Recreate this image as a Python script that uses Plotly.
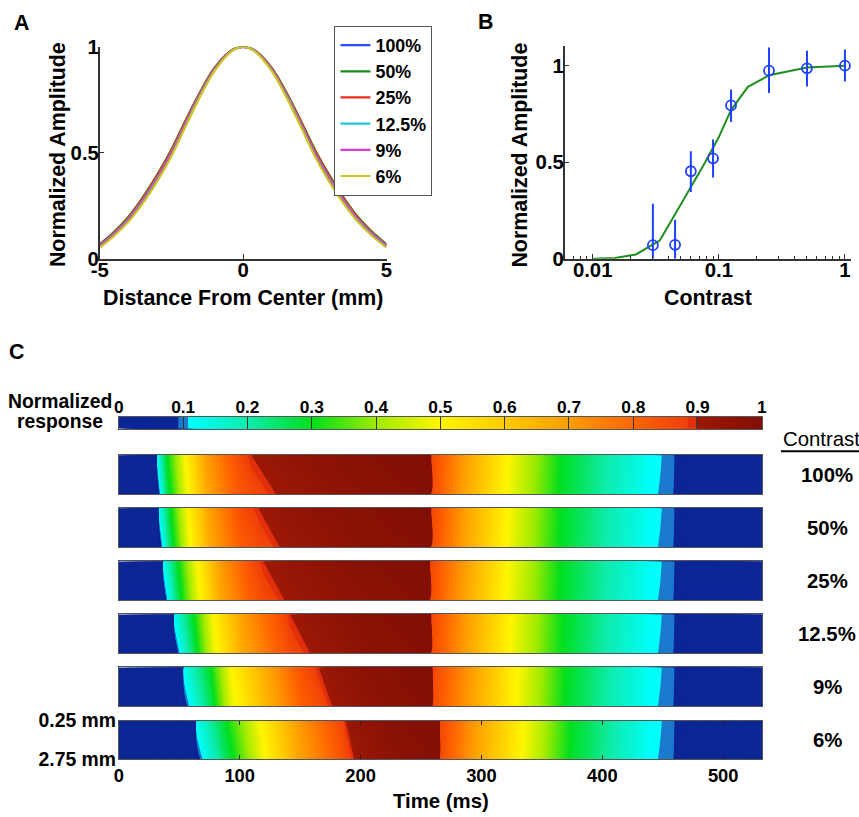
import plotly.graph_objects as go

# The page is photographed with the browser's default 8 px body margin and the shot is
# shrunk to 859x817 (factor 859/875).  Layout positions below are given in final picture
# pixels and converted to the figure's own pixel frame.
OUT_W, OUT_H = 859, 817
PAGE_MARGIN = 8
S = OUT_W / (OUT_W + 2 * PAGE_MARGIN)
W = OUT_W + PAGE_MARGIN          # figure width  (fills the shot to its right edge)
H = OUT_H + PAGE_MARGIN          # figure height (fills the shot to its bottom edge)
FONT = "Liberation Sans, Arial, Helvetica, sans-serif"

# ---------------- Panel A: spatial profiles ----------------
dist_mm = [-5, -4.5, -4, -3.5, -3, -2.5, -2, -1.5, -1, -0.5, -0.25, 0,
           0.25, 0.5, 1, 1.5, 2, 2.5, 3, 3.5, 4, 4.5, 5]
amp_100 = [0.063, 0.120, 0.190, 0.280, 0.385, 0.505, 0.645, 0.780, 0.895, 0.972, 0.993, 1.000,
           0.993, 0.972, 0.895, 0.780, 0.645, 0.505, 0.385, 0.280, 0.190, 0.120, 0.063]
amp_50 = [0.068, 0.127, 0.198, 0.290, 0.396, 0.516, 0.655, 0.787, 0.900, 0.974, 0.994, 1.000,
          0.994, 0.974, 0.900, 0.787, 0.655, 0.516, 0.396, 0.290, 0.198, 0.127, 0.068]
amp_25 = [0.066, 0.124, 0.195, 0.286, 0.392, 0.512, 0.651, 0.784, 0.898, 0.973, 0.993, 1.000,
          0.993, 0.973, 0.898, 0.784, 0.651, 0.512, 0.392, 0.286, 0.195, 0.124, 0.066]
amp_12 = [0.061, 0.117, 0.186, 0.275, 0.379, 0.499, 0.640, 0.776, 0.892, 0.971, 0.993, 1.000,
          0.993, 0.971, 0.892, 0.776, 0.640, 0.499, 0.379, 0.275, 0.186, 0.117, 0.061]
amp_9 = [0.058, 0.114, 0.182, 0.270, 0.374, 0.494, 0.635, 0.772, 0.890, 0.970, 0.992, 1.000,
         0.992, 0.970, 0.890, 0.772, 0.635, 0.494, 0.374, 0.270, 0.182, 0.114, 0.058]
amp_6 = [0.052, 0.107, 0.174, 0.261, 0.364, 0.484, 0.626, 0.765, 0.885, 0.968, 0.992, 1.000,
         0.992, 0.968, 0.885, 0.765, 0.626, 0.484, 0.364, 0.261, 0.174, 0.107, 0.052]
contrast_labels = ["100%", "50%", "25%", "12.5%", "9%", "6%"]
line_colors = ["#2b4cff", "#1b8a1b", "#e8321e", "#22c8d8", "#d23cd2", "#c8c81e"]

# ---------------- Panel B: contrast response ----------------
contrast = [0.03, 0.045, 0.06, 0.09, 0.125, 0.25, 0.5, 1.0]
amp_mean = [0.07, 0.072, 0.453, 0.52, 0.794, 0.974, 0.986, 1.0]
err_up = [0.215, 0.13, 0.104, 0.097, 0.082, 0.12, 0.091, 0.084]
err_down = [0.07, 0.072, 0.108, 0.10, 0.086, 0.116, 0.094, 0.082]
fit_contrast = [0.01, 0.015, 0.022, 0.034, 0.045, 0.06, 0.075, 0.09, 0.1, 0.125, 0.17, 0.25, 0.5, 1.0]
fit_amp = [0.0, 0.004, 0.022, 0.094, 0.23, 0.37, 0.48, 0.575, 0.63, 0.77, 0.89, 0.95, 0.99, 1.0]

# ---------------- Panel C: space-time response ----------------
rows_mm = [0.25, 2.75]
t_100 = [0, 31, 32, 40, 55, 73, 98, 110, 131, 190, 257.5, 258.5, 286, 322, 366, 405, 440, 448, 459, 470, 532]
t_50 = [0, 32.5, 33.5, 43, 57, 76, 101, 116, 134, 190, 257.5, 258.5, 286, 322, 366, 405, 440, 448, 459, 470, 532]
t_25 = [0, 36, 37, 49, 65, 84, 109, 120, 138, 195, 256.5, 257.5, 286, 322, 366, 405, 440, 448, 459, 470, 532]
t_12 = [0, 45, 46, 62, 78, 103, 134, 142, 159, 205, 257.5, 258.5, 288, 325, 368, 405, 440, 448, 459, 470, 532]
t_9 = [0, 53, 54, 76, 93, 127, 153, 166, 177, 215, 258.5, 259.5, 292, 330, 370, 407, 440, 448, 459, 470, 532]
t_6 = [0, 63.5, 64.5, 89, 117, 148, 181, 188, 195, 225, 264.5, 265.5, 295, 335, 374, 410, 440, 448, 459, 470, 532]

top_100 = [0.0, 0.02, 0.13, 0.30, 0.50, 0.70, 0.85, 0.90, 0.93, 0.98, 1.00, 0.87, 0.70, 0.50, 0.30, 0.20, 0.118, 0.109, 0.095, 0.05, 0.01]
bot_100 = [0.0, 0.01, 0.05, 0.26, 0.47, 0.68, 0.82, 0.855, 0.90, 0.96, 0.99, 0.86, 0.69, 0.49, 0.295, 0.195, 0.112, 0.106, 0.092, 0.04, 0.01]
top_50 = [0.0, 0.02, 0.13, 0.30, 0.50, 0.70, 0.85, 0.90, 0.93, 0.98, 1.00, 0.87, 0.70, 0.50, 0.30, 0.20, 0.118, 0.109, 0.095, 0.05, 0.01]
bot_50 = [0.0, 0.01, 0.05, 0.26, 0.47, 0.68, 0.82, 0.855, 0.90, 0.96, 0.99, 0.86, 0.69, 0.49, 0.295, 0.195, 0.112, 0.106, 0.092, 0.04, 0.01]
top_25 = [0.0, 0.02, 0.13, 0.30, 0.50, 0.70, 0.85, 0.90, 0.93, 0.98, 1.00, 0.87, 0.70, 0.50, 0.30, 0.20, 0.118, 0.109, 0.095, 0.05, 0.01]
bot_25 = [0.0, 0.01, 0.05, 0.26, 0.47, 0.68, 0.82, 0.855, 0.90, 0.96, 0.99, 0.86, 0.69, 0.49, 0.295, 0.195, 0.112, 0.106, 0.092, 0.04, 0.01]
top_12 = [0.0, 0.02, 0.13, 0.30, 0.50, 0.70, 0.85, 0.90, 0.93, 0.98, 1.00, 0.87, 0.70, 0.50, 0.30, 0.20, 0.118, 0.109, 0.095, 0.05, 0.01]
bot_12 = [0.0, 0.01, 0.05, 0.26, 0.47, 0.68, 0.82, 0.855, 0.90, 0.96, 0.99, 0.86, 0.69, 0.49, 0.295, 0.195, 0.112, 0.106, 0.092, 0.04, 0.01]
top_9 = [0.0, 0.02, 0.13, 0.30, 0.50, 0.70, 0.85, 0.90, 0.93, 0.98, 1.00, 0.87, 0.70, 0.50, 0.30, 0.20, 0.118, 0.109, 0.095, 0.05, 0.01]
bot_9 = [0.0, 0.01, 0.07, 0.26, 0.47, 0.68, 0.82, 0.855, 0.90, 0.96, 0.99, 0.86, 0.69, 0.49, 0.295, 0.195, 0.112, 0.106, 0.092, 0.04, 0.01]
top_6 = [0.0, 0.02, 0.13, 0.30, 0.50, 0.70, 0.85, 0.90, 0.93, 0.98, 1.00, 0.87, 0.70, 0.50, 0.30, 0.20, 0.118, 0.109, 0.095, 0.05, 0.01]
bot_6 = [0.0, 0.01, 0.07, 0.26, 0.47, 0.68, 0.82, 0.855, 0.90, 0.96, 0.99, 0.86, 0.69, 0.49, 0.295, 0.195, 0.112, 0.106, 0.092, 0.04, 0.01]

cbar_levels = [0.0, 1.0]
cbar_ticks = [0, 0.1, 0.2, 0.3, 0.4, 0.5, 0.6, 0.7, 0.8, 0.9, 1]
cbar_ticktext = ["0", "0.1", "0.2", "0.3", "0.4", "0.5", "0.6", "0.7", "0.8", "0.9", "1"]
time_ticks = [0, 100, 200, 300, 400, 500]

strips = [
    ("100%", t_100, top_100, bot_100),
    ("50%", t_50, top_50, bot_50),
    ("25%", t_25, top_25, bot_25),
    ("12.5%", t_12, top_12, bot_12),
    ("9%", t_9, top_9, bot_9),
    ("6%", t_6, top_6, bot_6),
]

colorscale = [
    [0.0, "rgb(12,38,150)"], [0.093, "rgb(12,38,150)"],
    [0.093, "rgb(28,122,205)"], [0.107, "rgb(28,122,205)"],
    [0.107, "rgb(0,255,255)"], [0.2, "rgb(15,236,175)"],
    [0.3, "rgb(0,222,30)"], [0.4, "rgb(160,235,0)"],
    [0.5, "rgb(255,245,0)"], [0.6, "rgb(255,203,0)"],
    [0.7, "rgb(255,158,0)"], [0.8, "rgb(255,102,0)"],
    [0.886, "rgb(240,62,10)"], [0.886, "rgb(226,48,12)"],
    [0.897, "rgb(226,48,12)"], [0.897, "rgb(158,25,6)"],
    [1.0, "rgb(130,15,5)"],
]


def fx(px):
    return (px / S - PAGE_MARGIN) / W


def fy(py):
    return 1 - (py / S - PAGE_MARGIN) / H


def fs(size):
    return round(size / S, 2)


def xd(a, b):
    return [fx(a), fx(b)]


def yd(top_px, bot_px):
    return [fy(bot_px), fy(top_px)]


def ax_style(**kw):
    d = dict(showline=True, linecolor="#333", linewidth=1.5, ticks="inside", ticklen=5,
             tickcolor="#333", showgrid=False, zeroline=False)
    d.update(kw)
    return d


fig = go.Figure()

series_A = [amp_100, amp_50, amp_25, amp_12, amp_9, amp_6]
for lab, col, ys in zip(contrast_labels, line_colors, series_A):
    fig.add_trace(go.Scatter(x=dist_mm, y=ys, mode="lines", name=lab,
                             line=dict(color=col, width=2.2, shape="spline"),
                             xaxis="x", yaxis="y"))

fig.add_trace(go.Scatter(x=fit_contrast, y=fit_amp, mode="lines", showlegend=False,
                         line=dict(color="#1f8f1f", width=2), xaxis="x2", yaxis="y2"))
fig.add_trace(go.Scatter(x=contrast, y=amp_mean, mode="markers", showlegend=False,
                         marker=dict(symbol="circle-open", size=10, color="#2040ff",
                                     line=dict(width=1.8, color="#2040ff")),
                         error_y=dict(type="data", symmetric=False, array=err_up,
                                      arrayminus=err_down, color="#2040ff", thickness=2, width=0),
                         xaxis="x2", yaxis="y2"))

fig.add_trace(go.Contour(x=cbar_levels, y=[0, 1], z=[cbar_levels, cbar_levels],
                         colorscale=colorscale, zmin=0, zmax=1, showscale=False,
                         autocontour=False,
                         contours=dict(start=0, end=1, size=0.0025, coloring="fill", showlines=False),
                         line=dict(width=0), hoverinfo="skip", xaxis="x3", yaxis="y3"))

for i, (lab, tt, top, bot) in enumerate(strips):
    k = i + 4
    fig.add_trace(go.Contour(x=tt, y=rows_mm, z=[top, bot],
                             colorscale=colorscale, zmin=0, zmax=1, showscale=False,
                             autocontour=False,
                             contours=dict(start=0, end=1, size=0.0025, coloring="fill", showlines=False),
                             line=dict(width=0), hoverinfo="skip",
                             xaxis=f"x{k}", yaxis=f"y{k}"))

layout = dict(
    width=W, height=H, margin=dict(l=0, r=0, t=0, b=0),
    paper_bgcolor="white", plot_bgcolor="white",
    font=dict(family=FONT, size=fs(20), color="black", weight="bold"),
    showlegend=True,
    legend=dict(x=fx(333), y=fy(23), xanchor="left", yanchor="top",
                bordercolor="#555", borderwidth=1, bgcolor="white",
                font=dict(size=fs(17.5)), tracegroupgap=0),
    xaxis=ax_style(domain=xd(98.5, 385), range=[-5, 5], tickvals=[-5, 0, 5],
                   ticktext=["-5", "0", "5"], anchor="y", ticklabelstandoff=-8),
    yaxis=ax_style(domain=yd(44, 257.7), range=[0, 1], tickvals=[0, 0.5, 1],
                   ticktext=["0", "0.5", "1"], anchor="x", ticklabelstandoff=-5),
    xaxis2=ax_style(domain=xd(563, 849), type="log", range=[-2.222, 0.048],
                    tickvals=[0.01, 0.1, 1], ticktext=["0.01", "0.1", "1"], anchor="y2",
                    ticklabelstandoff=-8,
                    minor=dict(ticks="inside", ticklen=3, tickcolor="#333", dtick="D1")),
    yaxis2=ax_style(domain=yd(43.5, 257.7), range=[0, 1.1], tickvals=[0, 0.5, 1],
                    ticktext=["0", "0.5", "1"], anchor="x2", ticklabelstandoff=-5),
    xaxis3=dict(domain=xd(117.6, 760), range=[0, 1], side="top", anchor="y3",
                tickvals=cbar_ticks, ticktext=cbar_ticktext, ticks="inside", ticklen=12,
                tickcolor="#333", tickwidth=1, showline=True, mirror=True, linecolor="#555",
                linewidth=1, showgrid=False, zeroline=False, tickfont=dict(size=fs(17)),
                ticklabelstandoff=-4),
    yaxis3=dict(domain=yd(417, 429), range=[0, 1], anchor="x3", showticklabels=False,
                ticks="", showline=True, mirror=True, linecolor="#555", linewidth=1,
                showgrid=False, zeroline=False),
)

strip_top = [456, 509.5, 563, 616.5, 670, 723.5]
annotations = []
for i, (lab, tt, top, bot) in enumerate(strips):
    k = i + 4
    last = (i == len(strips) - 1)
    xa = dict(domain=xd(117.6, 760), range=[0, 532], anchor=f"y{k}", showline=True,
              mirror="allticks" if last else True, linecolor="#555", linewidth=1,
              showgrid=False, zeroline=False)
    ya = dict(domain=yd(strip_top[i], strip_top[i] + 39), range=[2.75, 0.25], anchor=f"x{k}",
              showline=True, mirror=True, linecolor="#555", linewidth=1,
              showgrid=False, zeroline=False)
    if last:
        xa.update(tickvals=time_ticks, ticks="inside", ticklen=4, tickcolor="#222",
                  tickfont=dict(size=fs(18)))
        ya.update(tickvals=rows_mm, ticktext=["0.25 mm", "2.75 mm"], ticks="",
                  tickfont=dict(size=fs(19)), ticklabelstandoff=-2)
    else:
        xa.update(showticklabels=False, ticks="")
        ya.update(showticklabels=False, ticks="")
    layout[f"xaxis{k}"] = xa
    layout[f"yaxis{k}"] = ya
    annotations.append(dict(text=lab, xref="paper", yref=f"y{k} domain", x=fx(825.5), y=0.5,
                            xanchor="center", yanchor="middle", showarrow=False,
                            font=dict(size=fs(20))))


def ann(text, px, py, size=21, angle=0, weight="bold", xanchor="center"):
    return dict(text=text, xref="paper", yref="paper", x=fx(px), y=fy(py),
                xanchor=xanchor, yanchor="middle", showarrow=False, textangle=angle,
                font=dict(size=fs(size), weight=weight))


annotations += [
    ann("A", 20, 20),
    ann("B", 484, 19),
    ann("C", 15, 352),
    ann("Normalized Amplitude", 57, 153, angle=-90),
    ann("Distance From Center (mm)", 242, 297),
    ann("Normalized Amplitude", 518, 153, angle=-90),
    ann("Contrast", 706, 297),
    ann("Normalized", 59, 401, size=19),
    ann("response", 59, 421, size=19),
    ann("Contrast", 779, 440, size=20, weight="normal", xanchor="left"),
    ann("Time (ms)", 439, 805, size=20),
]
layout["annotations"] = annotations
layout["shapes"] = [dict(type="line", xref="paper", yref="paper", x0=fx(779), x1=1.0,
                         y0=fy(452), y1=fy(452), line=dict(color="black", width=2))]

fig.update_layout(**layout)
fig.write_html("out.html")
